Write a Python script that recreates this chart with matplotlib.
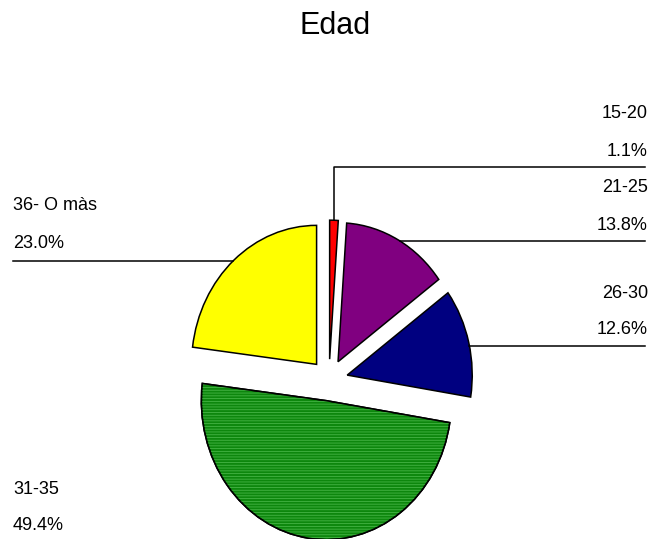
import numpy as np
import matplotlib
matplotlib.use("Agg")
from matplotlib import pyplot as plt
from matplotlib.patches import Wedge

plt.rcParams['font.family'] = ['Liberation Sans', 'DejaVu Sans']

labels = ['15-20', '21-25', '26-30', '31-35', '36- O màs']
values = [1.1, 13.8, 12.6, 49.4, 23.0]
colors = ['#ff0000', '#800080', '#000080', '#0d870d', '#ffff00']

W, H = 650, 539
fig = plt.figure(figsize=(W / 100, H / 100), dpi=100)

# pie axes: slightly taller than wide, like the original tilted 3D pie
sx, sy = 125.0, 139.0        # pixels per unit
cx_pix, cy_pix = 329.0, 380.0  # centre, pixels from top
lim = 1.3
ax = fig.add_axes([(cx_pix - lim * sx) / W, (H - cy_pix - lim * sy) / H,
                   2 * lim * sx / W, 2 * lim * sy / H])

explode = [0.15] * len(values)
wedges, _ = ax.pie(values, colors=colors, startangle=90, counterclock=False,
                   explode=explode, radius=1.0,
                   wedgeprops=dict(edgecolor='black', linewidth=1.1))
# pie() resets limits and aspect, so set them afterwards
ax.set_xlim(-lim, lim)
ax.set_ylim(-lim, lim)
ax.set_aspect('auto')
ax.axis('off')
for w in wedges:
    w.set_clip_on(False)

# stripe texture on the big green slice
plt.rcParams['hatch.linewidth'] = 0.6
g = wedges[3]
ax.add_patch(Wedge(g.center, g.r, g.theta1, g.theta2, fill=False,
                   hatch='------', edgecolor='#46b446', linewidth=0,
                   clip_on=False, zorder=g.get_zorder() + 0.1))
ax.add_patch(Wedge(g.center, g.r, g.theta1, g.theta2, fill=False,
                   edgecolor='black', linewidth=1.1, clip_on=False,
                   zorder=g.get_zorder() + 0.2))

# overlay axes in pixel coordinates for the labels
lab = fig.add_axes([0, 0, 1, 1])
lab.set_xlim(0, W)
lab.set_ylim(H, 0)
lab.axis('off')

def to_lab(x, y):
    p = ax.transData.transform((x, y))
    return lab.transData.inverted().transform(p)

def to_pie(px, py):
    p = lab.transData.transform((px, py))
    return ax.transData.inverted().transform(p)

def arc_x(w, ypix, side):
    cx, cy = w.center
    _, yd = to_pie(0, ypix)
    dy = yd - cy
    dx = np.sqrt(max(w.r ** 2 - dy ** 2, 0))
    return to_lab(cx + side * dx, yd)[0]

lab.text(W / 2 + 10, 26, 'Edad', ha='center', va='center', fontsize=22)

fs = 13
# label block: (name y, pct y, line y, side)
layout = {
    0: (113, 151, 167, 1),
    1: (188, 226, 241, 1),
    2: (293, 330, 346, 1),
    3: (489, 526, 542, -1),
    4: (206, 243, 261, -1),
}
x_right, x_left = 648, 13
for i, (yn, yp, yl, side) in layout.items():
    pct = '%.1f%%' % values[i]
    if side > 0:
        lab.text(x_right, yn, labels[i], ha='right', va='center', fontsize=fs)
        lab.text(x_right, yp, pct, ha='right', va='center', fontsize=fs)
    else:
        lab.text(x_left, yn, labels[i], ha='left', va='center', fontsize=fs)
        lab.text(x_left, yp, pct, ha='left', va='center', fontsize=fs)
    w = wedges[i]
    if i == 0:
        # tiny slice: leader runs straight up from its tip
        mid = np.deg2rad((w.theta1 + w.theta2) / 2)
        tx, ty = to_lab(w.center[0] + w.r * np.cos(mid),
                        w.center[1] + w.r * np.sin(mid))
        lab.plot([tx, tx, x_right - 3], [ty, yl, yl], color='black', lw=1.1)
    elif side > 0:
        lab.plot([arc_x(w, yl, 1), x_right - 3], [yl, yl], color='black', lw=1.1)
    else:
        lab.plot([x_left, arc_x(w, yl, -1)], [yl, yl], color='black', lw=1.1)

fig.savefig('out.png', dpi=100)
